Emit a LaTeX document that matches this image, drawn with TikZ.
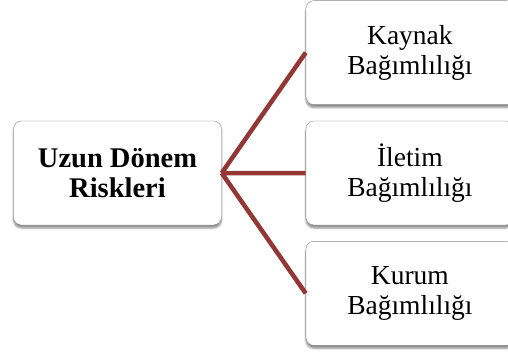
\documentclass[tikz,border=0pt]{standalone}
\usepackage{fontspec}
\setmainfont{Liberation Serif}
\usetikzlibrary{positioning,shadows.blur}
\usepackage{xcolor}
\definecolor{mred}{RGB}{148,54,52}
\definecolor{mgray}{RGB}{135,135,135}

\begin{document}
\begin{tikzpicture}[riskbox/.style={draw=mgray, fill=white, rounded corners=8pt, minimum width=\boxw pt, minimum height=\boxh pt, align=center, font=\fontsize{27.5}{30}\selectfont, blur shadow={shadow xshift=0pt, shadow yshift=-3pt, shadow blur steps=6, shadow opacity=45}}, link/.style={draw=mred, line width=4.5pt}]
  \pgfmathsetmacro{\boxw}{208}
  \pgfmathsetmacro{\boxh}{104}
  \useasboundingbox (0,0) rectangle (508pt,-356pt);
  \node [riskbox, font=\fontsize{28.5}{30}\selectfont\bfseries] (risk) at (117.5pt,-173pt) {Uzun Dönem\\Riskleri};
  \node [riskbox, right=84pt of risk] (iletim) {İletim\\Bağımlılığı};
  \node [riskbox, above=16pt of iletim] (kaynak) {Kaynak\\Bağımlılığı};
  \node [riskbox, below=16pt of iletim] (kurum) {Kurum\\Bağımlılığı};
  \path [link] (risk.east) -- (kaynak.west)
    (risk.east) -- (iletim.west)
    (risk.east) -- (kurum.west);
\end{tikzpicture}
\end{document}
